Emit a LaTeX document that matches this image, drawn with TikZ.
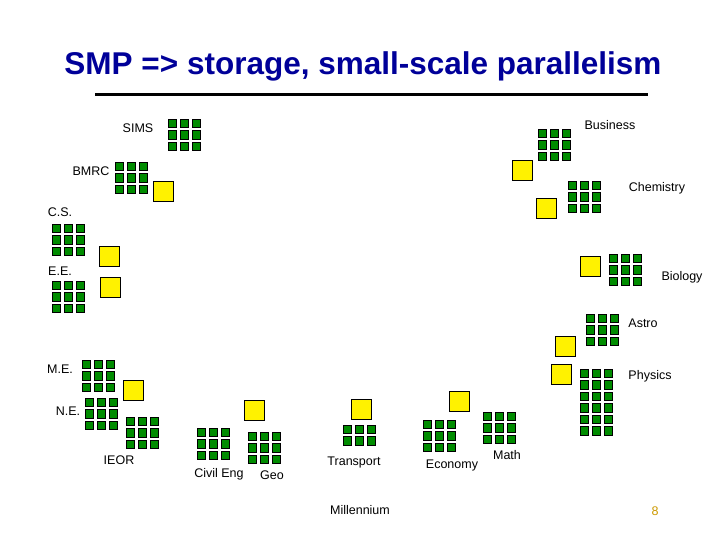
\documentclass[tikz,border=0pt]{standalone}
\usepackage{fontspec}
\setmainfont{Liberation Sans}
\begin{document}
\begin{tikzpicture}[x=1pt,y=-1pt,
  gsq/.style={draw=black,fill=green!55!black,line width=0.8pt},
  ysq/.style={draw=black,fill=yellow,line width=0.8pt},
  lbl/.style={font=\fontsize{12.5}{14}\selectfont,inner sep=0pt}]
\useasboundingbox (0,0) rectangle (720,540);
\newcommand{\clus}[3]{%
  \foreach \i in {0,1,2}{\foreach \j in {1,...,#3}{
    \draw[gsq] ({#1+12*\i},{#2+11.5*(\j-1)}) rectangle ++(8.5,8.5);}}}
\newcommand{\ysq}[2]{\draw[ysq] (#1,#2) rectangle ++(20,20);}
\node[font=\fontsize{31.5}{36}\bfseries\selectfont,text={rgb,255:red,0;green,0;blue,153}] (title) at (363,66) {SMP => storage, small-scale parallelism};
\draw[line width=3pt] (95,95) -- (648,95);
\clus{168}{119}{3} \node[lbl] (sims) at (138,128) {SIMS};
\clus{115}{162}{3} \node[lbl] (bmrc) at (91,171) {BMRC}; \ysq{153}{181}
\clus{52}{224}{3} \node[lbl] (cs) at (60,212) {C.S.}; \ysq{99}{246}
\clus{52}{281}{3} \node[lbl] (ee) at (60,271) {E.E.}; \ysq{100}{277}
\clus{538}{129}{3} \node[lbl] (bus) at (610,125) {Business}; \ysq{512}{160}
\clus{568}{181}{3} \node[lbl] (chem) at (657,188) {Chemistry}; \ysq{536}{198}
\clus{609}{254}{3} \node[lbl] (bio) at (682,277) {Biology}; \ysq{580}{256}
\clus{586}{314}{3} \node[lbl] (astro) at (643,323) {Astro}; \ysq{555}{336}
\clus{580}{369}{6} \node[lbl] (phys) at (650,376) {Physics}; \ysq{551}{364}
\clus{343}{425}{2} \node[lbl] (trans) at (354,462) {Transport}; \ysq{351}{399}
\clus{423}{420}{3} \node[lbl] (econ) at (452,465) {Economy}; \ysq{449}{391}
\clus{483}{412}{3} \node[lbl] (math) at (507,455) {Math};
\clus{82}{360}{3} \node[lbl] (me) at (60,369) {M.E.}; \ysq{123}{380}
\clus{85}{398}{3} \node[lbl] (ne) at (68,411) {N.E.};
\clus{126}{417}{3} \node[lbl] (ieor) at (119,460) {IEOR};
\clus{197}{428}{3} \node[lbl] (civ) at (219,474) {Civil Eng};
\clus{248}{432}{3} \node[lbl] (geo) at (272,475) {Geo}; \ysq{244}{400}
\node[lbl] (mil) at (360,510) {Millennium};
\node[lbl,text={rgb,255:red,204;green,153;blue,0}] (pg) at (655,511) {8};
\end{tikzpicture}
\end{document}
